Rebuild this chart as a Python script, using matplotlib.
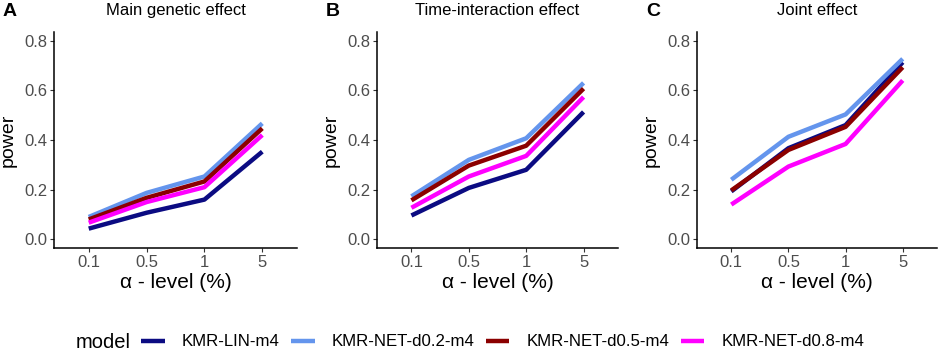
import matplotlib.pyplot as plt
import numpy as np

plt.rcParams['font.family'] = ['Liberation Sans', 'DejaVu Sans']

levels = ['0.1', '0.5', '1', '5']
models = ['KMR-LIN-m4', 'KMR-NET-d0.2-m4', 'KMR-NET-d0.5-m4', 'KMR-NET-d0.8-m4']
colors = ['#0b0b82', '#6495ED', '#8B0000', '#FF00FF']
panels = ['A', 'B', 'C']
titles = ['Main genetic effect', 'Time-interaction effect', 'Joint effect']

# power per panel, one row per model
main_effect = [
    [0.043, 0.107, 0.160, 0.353],
    [0.090, 0.187, 0.253, 0.467],
    [0.080, 0.167, 0.233, 0.447],
    [0.067, 0.150, 0.210, 0.420],
]
time_effect = [
    [0.096, 0.207, 0.280, 0.513],
    [0.173, 0.320, 0.407, 0.630],
    [0.157, 0.297, 0.377, 0.607],
    [0.127, 0.253, 0.336, 0.573],
]
joint_effect = [
    [0.193, 0.367, 0.460, 0.713],
    [0.240, 0.413, 0.503, 0.727],
    [0.197, 0.360, 0.453, 0.693],
    [0.140, 0.293, 0.384, 0.640],
]
data = [main_effect, time_effect, joint_effect]

W, H = 941, 351
fig = plt.figure(figsize=(W / 100, H / 100), dpi=100)

# axes box in pixel coords: left, right
boxes = [(54, 297), (377, 618), (697, 937)]
top, bottom = 32, 248
x = np.arange(1, len(levels) + 1)

lines = []
for i in range(3):
    l, r = boxes[i]
    ax = fig.add_axes([l / W, 1 - bottom / H, (r - l) / W, (bottom - top) / H])
    for k in range(len(models)):
        ln, = ax.plot(x, data[i][k], color=colors[k], lw=3.2, solid_capstyle='butt')
        if i == 0:
            lines.append(ln)
    ax.set_xlim(0.4, 4.6)
    ax.set_ylim(-0.035, 0.835)
    ax.set_xticks(x)
    ax.set_xticklabels(levels)
    ax.set_yticks([0.0, 0.2, 0.4, 0.6, 0.8])
    ax.set_yticklabels(['0.0', '0.2', '0.4', '0.6', '0.8'])
    ax.tick_params(labelsize=12, colors='#333333', length=3, width=0.8, pad=2, labelcolor='#4d4d4d')
    for s in ['top', 'right']:
        ax.spines[s].set_visible(False)
    for s in ['left', 'bottom']:
        ax.spines[s].set_linewidth(1.1)
    ax.set_ylabel('power', fontsize=14)
    ax.yaxis.set_label_coords(-37 / (r - l), 0.5)
    ax.set_xlabel('α - level (%)', fontsize=15)
    ax.xaxis.set_label_coords(0.5, -(282 - bottom) / (bottom - top))
    ax.xaxis.label.set_va('center')
    ax.set_title(titles[i], fontsize=12, pad=0, y=1 + (top - 11) / (bottom - top), va='center')
    fig.text((l - 51) / W, 1 - 12 / H, panels[i], fontsize=14, fontweight='bold', va='center')

fig.text(76 / W, 1 - 342 / H, 'model', fontsize=14.5, va='center')
fig.legend(lines, models, loc='center left', bbox_to_anchor=(141 / W, 1 - 342 / H), ncol=4,
           frameon=False, fontsize=12.1, handlelength=1.4, columnspacing=0.7, handletextpad=1.0,
           borderpad=0, borderaxespad=0)

fig.savefig('out.png', dpi=100)
